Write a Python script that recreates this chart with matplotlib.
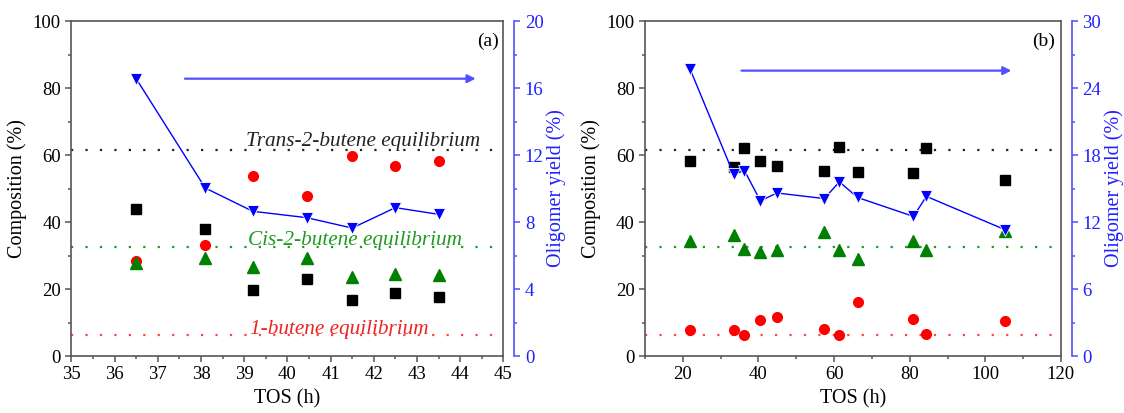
import matplotlib
matplotlib.use('Agg')
import matplotlib.pyplot as plt
from matplotlib.ticker import MultipleLocator

plt.rcParams['font.family'] = ['Liberation Serif', 'DejaVu Serif']

# ---------------- Panel (a) data ----------------
tos_a = [36.5, 38.1, 39.2, 40.45, 41.5, 42.5, 43.5]
square_a = [44.0, 37.8, 19.8, 23.1, 16.7, 18.8, 17.7]
circle_a = [28.5, 33.1, 53.7, 47.9, 59.8, 56.8, 58.2]
triangle_a = [27.7, 29.3, 26.7, 29.2, 23.7, 24.5, 24.3]
oligomer_a = [16.56, 10.03, 8.64, 8.26, 7.64, 8.86, 8.46]

# ---------------- Panel (b) data ----------------
tos_b = [21.9, 33.4, 36.3, 40.5, 44.9, 57.4, 61.4, 66.2, 81.0, 84.4, 105.3]
square_b = [58.2, 56.3, 62.1, 58.3, 56.6, 55.1, 62.4, 55.0, 54.7, 62.0, 52.4]
circle_b = [7.8, 7.8, 6.2, 10.7, 11.7, 8.1, 6.2, 16.2, 11.1, 6.6, 10.5]
triangle_b = [34.4, 36.2, 32.0, 31.0, 31.7, 37.1, 31.7, 28.9, 34.4, 31.5, 37.3]
oligomer_b = [25.7, 16.3, 16.6, 13.9, 14.6, 14.1, 15.6, 14.2, 12.5, 14.3, 11.3]

# equilibrium compositions (trans-2, cis-2, 1-butene)
eq_trans = 61.5
eq_cis = 32.4
eq_one = 6.2

BLUE_TXT = '#2020ff'
BLUE_SP = '#5050ff'
SPINE = '#555555'

fig = plt.figure(figsize=(11.24, 4.13), dpi=100)
ax_a = fig.add_axes([0.0635, 0.138, 0.3843, 0.811])
ax_b = fig.add_axes([0.5739, 0.138, 0.370, 0.811])


def style_main(ax):
    for s in ax.spines.values():
        s.set_color(SPINE)
        s.set_linewidth(1.2)
    ax.tick_params(which='both', direction='out', color=SPINE, labelsize=13.5,
                   top=False, right=False)
    ax.tick_params(which='major', length=4, width=1.1)
    ax.tick_params(which='minor', length=2.5, width=1.1)
    ax.set_ylim(0, 100)
    ax.yaxis.set_major_locator(MultipleLocator(20))
    ax.yaxis.set_minor_locator(MultipleLocator(10))
    ax.set_ylabel('Composition (%)', fontsize=14.5, labelpad=4)
    ax.set_xlabel('TOS (h)', fontsize=14.5, labelpad=4)


def style_twin(ax2, ymax, step, minor):
    ax2.set_ylim(0, ymax)
    ax2.yaxis.set_major_locator(MultipleLocator(step))
    ax2.yaxis.set_minor_locator(MultipleLocator(minor))
    for k in ['left', 'top', 'bottom']:
        ax2.spines[k].set_visible(False)
    ax2.spines['right'].set_position(('outward', 8))
    ax2.spines['right'].set_color(BLUE_SP)
    ax2.spines['right'].set_linewidth(1.2)
    ax2.tick_params(which='both', direction='out', color=BLUE_SP,
                    labelcolor=BLUE_TXT, labelsize=13.5)
    ax2.tick_params(which='major', length=4, width=1.1)
    ax2.tick_params(which='minor', length=2.5, width=1.1)
    ax2.set_ylabel('Oligomer yield (%)', fontsize=14.5, color=BLUE_TXT, labelpad=2)


def draw(ax, tos, sq, ci, tr, olig, ymax2, step2, minor2):
    ax.axhline(eq_trans, color='#222222', ls=(0, (1, 5.5)), lw=1.6, zorder=1)
    ax.axhline(eq_cis, color='#1f9a1f', ls=(0, (1, 5.5)), lw=1.6, zorder=1)
    ax.axhline(eq_one, color='#ff4444', ls=(0, (1, 5.5)), lw=1.6, zorder=1)
    ax.plot(tos, sq, ls='none', marker='s', ms=6.5, color='black', zorder=3)
    ax.plot(tos, ci, ls='none', marker='o', ms=7, color='red', zorder=3)
    ax.plot(tos, tr, ls='none', marker='^', ms=8, color='green', zorder=3)
    ax2 = ax.twinx()
    ax2.set_position(ax.get_position())
    ax2.plot(tos, olig, color='blue', lw=1.0, marker='v', ms=9,
             markeredgecolor='white', markeredgewidth=0.6, markerfacecolor='blue')
    style_twin(ax2, ymax2, step2, minor2)
    return ax2


# ----- panel (a)
style_main(ax_a)
ax_a.set_xlim(35, 45)
ax_a.xaxis.set_major_locator(MultipleLocator(1))
ax_a.xaxis.set_minor_locator(MultipleLocator(0.5))
ax2_a = draw(ax_a, tos_a, square_a, circle_a, triangle_a, oligomer_a, 20, 4, 2)
ax2_a.annotate('', xy=(44.36, 16.56), xytext=(37.63, 16.56),
               arrowprops=dict(arrowstyle='-|>', color=BLUE_SP, lw=1.6,
                               mutation_scale=12, shrinkA=0, shrinkB=0))
ax_a.text(39.05, 62.6, 'Trans-2-butene equilibrium', style='italic',
          fontsize=15.3, color='#222222', ha='left', va='baseline')
ax_a.text(39.1, 33.0, 'Cis-2-butene equilibrium', style='italic',
          fontsize=15.3, color='#1f9a1f', ha='left', va='baseline')
ax_a.text(39.13, 6.7, '1-butene equilibrium', style='italic',
          fontsize=15.3, color='#ee2222', ha='left', va='baseline')
ax_a.text(0.99, 0.94, '(a)', transform=ax_a.transAxes, ha='right', va='center',
          fontsize=14)

# ----- panel (b)
style_main(ax_b)
ax_b.set_xlim(10, 120)
ax_b.xaxis.set_major_locator(MultipleLocator(20))
ax_b.xaxis.set_minor_locator(MultipleLocator(10))
ax2_b = draw(ax_b, tos_b, square_b, circle_b, triangle_b, oligomer_b, 30, 6, 3)
ax2_b.annotate('', xy=(106.9, 25.56), xytext=(35.5, 25.56),
               arrowprops=dict(arrowstyle='-|>', color=BLUE_SP, lw=1.6,
                               mutation_scale=12, shrinkA=0, shrinkB=0))
ax_b.text(0.985, 0.94, '(b)', transform=ax_b.transAxes, ha='right', va='center',
          fontsize=14)

fig.savefig('out.png', dpi=100)
